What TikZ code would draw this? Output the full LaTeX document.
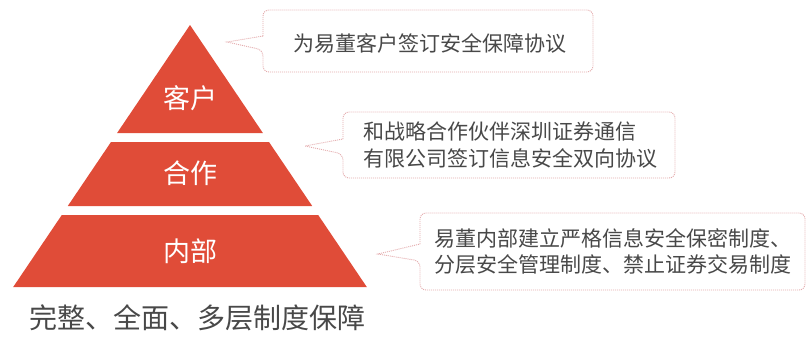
\documentclass[tikz,border=0pt]{standalone}
\usepackage{fontspec}
\setmainfont{Noto Sans CJK SC}
\definecolor{pyred}{RGB}{224,76,56}
\definecolor{calloutline}{RGB}{228,170,172}
\definecolor{txtgray}{RGB}{72,72,72}
\tikzset{
  tier/.style={fill=pyred, draw=none},
  tierlabel/.style={text=white, font=\fontsize{27}{30}\selectfont, inner sep=0pt},
  calloutbox/.style={draw=calloutline, line width=0.9pt, dash pattern=on 1pt off 1pt, fill=white, rounded corners=6pt},
  callouttext/.style={text=txtgray, font=\fontsize{21}{26.5}\selectfont, align=left, inner sep=0pt},
  bottomtext/.style={text=txtgray, font=\fontsize{28}{30}\selectfont, inner sep=0pt}
}
\begin{document}
\begin{tikzpicture}[x=1pt,y=-1pt]
\useasboundingbox (0,0) rectangle (808,338);
% pyramid tiers
\fill[tier] (190,25) -- (262.9,133) -- (117.1,133) -- cycle;
\fill[tier] (111,142) -- (269,142) -- (312.2,206) -- (67.8,206) -- cycle;
\fill[tier] (61.8,215) -- (318.2,215) -- (366.8,287) -- (13.2,287) -- cycle;
\node[tierlabel] (kehu) at (190,98.5) {客户};
\node[tierlabel] (hezuo) at (190,173.5) {合作};
\node[tierlabel] (neibu) at (190,251) {内部};
% callouts
\draw[calloutbox] (263,36) -- (263,10) -- (593,10) -- (593,72) -- (263,72) -- (263,50) [sharp corners] -- (227,42) -- cycle;
\draw[calloutbox] (343,139) -- (343,112) -- (675,112) -- (675,178) -- (343,178) -- (343,154) [sharp corners] -- (305,146) -- cycle;
\draw[calloutbox] (420,244) -- (420,213) -- (805,213) -- (805,290) -- (420,290) -- (420,261) [sharp corners] -- (378,254) -- cycle;
\node[callouttext] (c1) at (429.5,43) {为易董客户签订安全保障协议};
\node[callouttext] (c2) at (510,145) {和战略合作伙伴深圳证券通信\\有限公司签订信息安全双向协议};
\node[callouttext] (c3) at (613,251.5) {易董内部建立严格信息安全保密制度、\\分层安全管理制度、禁止证券交易制度};
\node[bottomtext] (bottom) at (197.5,318) {完整、全面、多层制度保障};
\end{tikzpicture}
\end{document}
